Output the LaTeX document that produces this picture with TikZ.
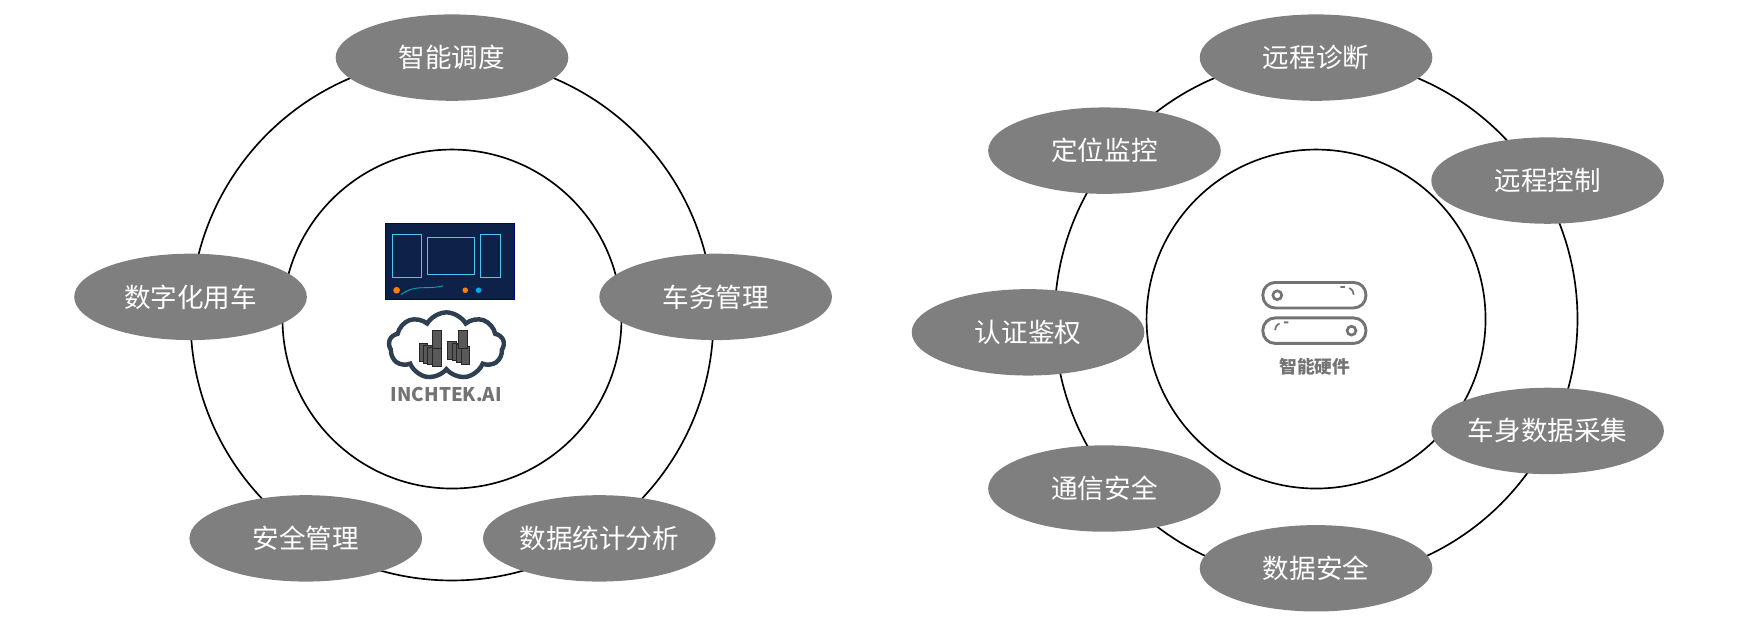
\documentclass[tikz,border=0pt]{standalone}
\usepackage{fontspec}
\setmainfont{Noto Sans CJK SC}
\usetikzlibrary{shapes.geometric,shapes.symbols}
\definecolor{pillgray}{HTML}{7F7F7F}
\definecolor{navy}{HTML}{2E3F52}
\definecolor{screenbg}{HTML}{0E2148}
\begin{document}
\begin{tikzpicture}[x=0.5pt,y=-0.5pt,
				ring/.style={circle, draw=black, line width=0.75pt, inner sep=0pt},
				pill/.style={ellipse, fill=pillgray, text=white, minimum width=105pt, minimum height=39pt, inner sep=0pt, font=\fontsize{12}{14}\selectfont},
				rack/.style={fill=black!65, draw=black!85, line width=0.2pt, minimum width=4pt, minimum height=8pt, inner sep=0pt},
				slot/.style={rounded corners=5.5pt, draw=black!55, line width=1.3pt}
			]
			\useasboundingbox (0,0) rectangle (1568,572);
			% left ring
			\node[ring, minimum size=236pt] (outerL) at (408,288) {};
			\node[ring, minimum size=153pt] (innerL) at (408,288) {};
			\node[pill] (dispatch) at (408,52) {智能调度};
			\node[pill] (digital) at (172,268) {数字化用车};
			\node[pill] (fleet) at (646,268) {车务管理};
			\node[pill] (safety) at (276,486) {安全管理};
			\node[pill] (stats) at (541,486) {数据统计分析};
			% screen
			\node[fill=screenbg, draw=blue!50!black, minimum width=58.5pt, minimum height=34pt, inner sep=0pt] (screen) at (406,236) {};
			\draw[cyan!70, line width=0.4pt] (354,212) rectangle (380,250) (386,214) rectangle (428,248) (434,212) rectangle (452,250);
			\draw[cyan!60!green, line width=0.4pt] (362,266) .. controls (375,256) and (385,262) .. (400,258);
			\fill[orange] (358,262) circle (3);
			\fill[orange] (420,262) circle (2.5);
			\fill[cyan] (432,262) circle (2.5);
			% cloud with racks
			\node[cloud, cloud puffs=9, cloud puff arc=120, aspect=1.9, draw=navy, line width=2pt, minimum width=52pt, minimum height=30pt] (cloud) at (403,312) {};
			\foreach \i in {0,...,3} {
				\node[rack] at (382+4*\i,318+1.5*\i) {};
				\node[rack] at (408+4*\i,316+1.5*\i) {};
			}
			\node[rack] (rackA) at (394,306) {};
			\node[rack] (rackB) at (418,306) {};
			\node[text=black!55, font=\bfseries\fontsize{8.5}{10}\selectfont] (brand) at (403,356) {INCHTEK.AI};
			% right ring
			\node[ring, minimum size=236pt] (outerR) at (1188,288) {};
			\node[ring, minimum size=153pt] (innerR) at (1188,288) {};
			\node[pill] (diagnose) at (1188,52) {远程诊断};
			\node[pill] (locate) at (997,136) {定位监控};
			\node[pill] (control) at (1397,163) {远程控制};
			\node[pill] (auth) at (928,300) {认证鉴权};
			\node[pill] (body) at (1397,389) {车身数据采集};
			\node[pill] (comm) at (997,441) {通信安全};
			\node[pill] (datasafe) at (1188,513) {数据安全};
			% hardware icon
			\draw[slot] (1140,255) rectangle (1233,278);
			\draw[slot] (1140,287) rectangle (1233,310);
			\draw[black!55, line width=1.2pt] (1153,266.5) circle (4) (1220,298.5) circle (4);
			\draw[black!55, line width=0.8pt] (1210,259) -- (1214,259) (1218,260) .. controls (1221,262) .. (1222,266);
			\draw[black!55, line width=0.8pt] (1151,298) .. controls (1152,294) .. (1155,292) (1159,291) -- (1163,291);
			\node[text=black!55, font=\bfseries\fontsize{8}{10}\selectfont] (hwlabel) at (1187,331) {智能硬件};
\end{tikzpicture}
\end{document}
